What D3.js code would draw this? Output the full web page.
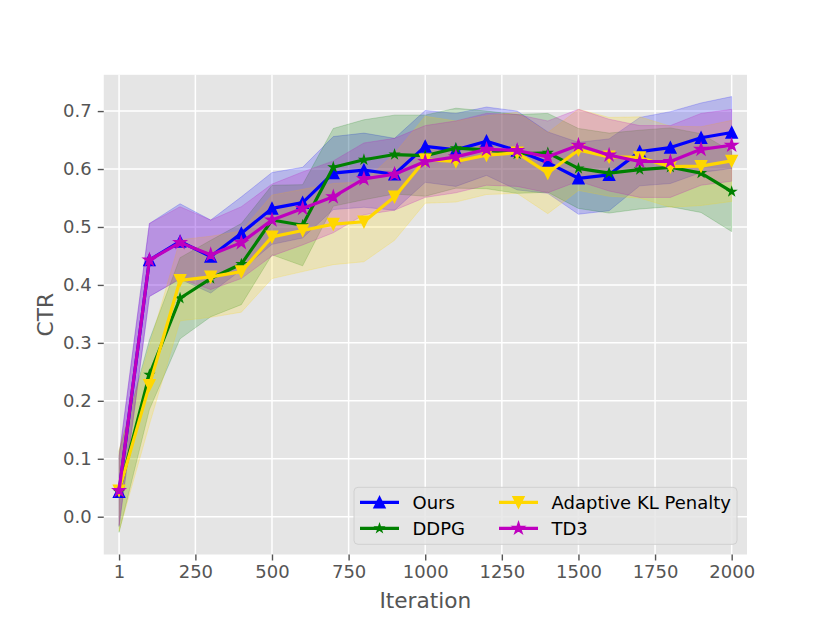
<!DOCTYPE html>
<html>
<head>
<meta charset="utf-8">
<script src="https://cdn.jsdelivr.net/npm/d3@7"></script>
<style>
  body { margin: 0; background: #fff; }
  svg { font-family: "DejaVu Sans", sans-serif; }
</style>
</head>
<body>
<div id="chart"></div>
<script>
// iterations on the x axis
const iterations = [1,100,200,300,400,500,600,700,800,900,1000,1100,1200,1300,1400,1500,1600,1700,1800,1900,2000];
const xTicks = [1,250,500,750,1000,1250,1500,1750,2000];
const yTicks = [0.0,0.1,0.2,0.3,0.4,0.5,0.6,0.7];

// mean CTR per method
const oursMean = [0.043,0.443,0.475,0.449,0.489,0.532,0.542,0.593,0.598,0.591,0.639,0.633,0.648,0.632,0.611,0.584,0.590,0.630,0.637,0.654,0.663];
const ddpgMean = [0.043,0.245,0.377,0.411,0.436,0.512,0.503,0.603,0.616,0.625,0.623,0.636,0.633,0.626,0.628,0.601,0.593,0.599,0.603,0.593,0.561];
const klMean   = [0.045,0.227,0.408,0.414,0.423,0.483,0.494,0.505,0.509,0.552,0.616,0.613,0.624,0.628,0.593,0.633,0.621,0.620,0.604,0.605,0.614];
const td3Mean  = [0.045,0.443,0.473,0.452,0.473,0.512,0.532,0.552,0.583,0.591,0.613,0.621,0.634,0.632,0.621,0.641,0.624,0.613,0.613,0.634,0.641];

// spread (half width of the shaded band)
const oursSd = [0.060,0.063,0.065,0.063,0.063,0.062,0.061,0.063,0.064,0.062,0.062,0.063,0.059,0.068,0.053,0.062,0.062,0.059,0.062,0.060,0.062];
const ddpgSd = [0.070,0.060,0.070,0.066,0.070,0.060,0.070,0.067,0.069,0.068,0.070,0.069,0.067,0.068,0.068,0.069,0.069,0.068,0.068,0.068,0.069];
const klSd   = [0.070,0.068,0.070,0.070,0.070,0.072,0.071,0.070,0.069,0.075,0.075,0.070,0.068,0.070,0.070,0.070,0.068,0.070,0.070,0.068,0.070];
const td3Sd  = [0.060,0.063,0.062,0.060,0.062,0.062,0.063,0.062,0.062,0.062,0.062,0.062,0.062,0.062,0.062,0.062,0.062,0.062,0.062,0.062,0.062];

const series = [
  {name: "Ours", mean: oursMean, sd: oursSd, color: "#0000ff", marker: "up", size: 11},
  {name: "DDPG", mean: ddpgMean, sd: ddpgSd, color: "#008000", marker: "star", size: 8},
  {name: "Adaptive KL Penalty", mean: klMean, sd: klSd, color: "#ffd700", marker: "down", size: 11},
  {name: "TD3", mean: td3Mean, sd: td3Sd, color: "#bf00bf", marker: "star", size: 12}
];

const W = 830, H = 623;
const box = {left: 103.75, right: 747, top: 74.8, bottom: 554.5};

const svg = d3.select("#chart").append("svg")
  .attr("width", W).attr("height", H);

const x = d3.scaleLinear().domain([-49, 2050]).range([box.left, box.right]);
const y = d3.scaleLinear().domain([-0.0652, 0.7626]).range([box.bottom, box.top]);

// marker shapes like matplotlib ^ v *
const markerPath = (type, s) => {
  const r = s / 2;
  if (type === "up") return `M0,${-r}L${-r},${r}L${r},${r}Z`;
  if (type === "down") return `M0,${r}L${-r},${-r}L${r},${-r}Z`;
  let p = "";
  for (let i = 0; i < 10; i++) {
    const rr = i % 2 === 0 ? r : r * 0.381966;
    const a = -Math.PI / 2 + i * Math.PI / 5;
    p += (i === 0 ? "M" : "L") + (rr * Math.cos(a)).toFixed(2) + "," + (rr * Math.sin(a)).toFixed(2);
  }
  return p + "Z";
};

// background
svg.append("rect")
  .attr("x", box.left).attr("y", box.top)
  .attr("width", box.right - box.left).attr("height", box.bottom - box.top)
  .attr("fill", "#e5e5e5");

svg.append("clipPath").attr("id", "clip")
  .append("rect")
  .attr("x", box.left).attr("y", box.top)
  .attr("width", box.right - box.left).attr("height", box.bottom - box.top);

// grid
const grid = svg.append("g");
grid.selectAll(".gx").data(xTicks).join("line")
  .attr("x1", d => x(d)).attr("x2", d => x(d))
  .attr("y1", box.top).attr("y2", box.bottom)
  .attr("stroke", "#fff").attr("stroke-width", 1.5);
grid.selectAll(".gy").data(yTicks).join("line")
  .attr("x1", box.left).attr("x2", box.right)
  .attr("y1", d => y(d)).attr("y2", d => y(d))
  .attr("stroke", "#fff").attr("stroke-width", 1.5);

// axes
const xAxis = d3.axisBottom(x).tickValues(xTicks).tickSize(6).tickPadding(5).tickFormat(d3.format("d"));
const yAxis = d3.axisLeft(y).tickValues(yTicks).tickSize(6).tickPadding(6).tickFormat(d3.format(".1f"));

const gx = svg.append("g").attr("transform", `translate(0,${box.bottom})`).call(xAxis);
const gy = svg.append("g").attr("transform", `translate(${box.left},0)`).call(yAxis);
[gx, gy].forEach(g => {
  g.select(".domain").remove();
  g.selectAll(".tick line").attr("stroke", "#555").attr("stroke-width", 1.4);
  g.selectAll(".tick text").attr("fill", "#555").attr("font-size", 18)
    .attr("font-family", "DejaVu Sans");
});

svg.append("text")
  .attr("x", (box.left + box.right) / 2).attr("y", 608)
  .attr("text-anchor", "middle").attr("font-size", 21.7).attr("fill", "#555")
  .text("Iteration");
svg.append("text")
  .attr("transform", `translate(52.5,${(box.top + box.bottom) / 2}) rotate(-90)`)
  .attr("text-anchor", "middle").attr("font-size", 21.7).attr("fill", "#555")
  .text("CTR");

// bands first, then lines and markers on top
const plot = svg.append("g").attr("clip-path", "url(#clip)");
const bandLayer = plot.append("g");
const lineLayer = plot.append("g");

series.forEach(s => {
  const pts = iterations.map((it, i) => ({it, m: s.mean[i], sd: s.sd[i]}));

  const area = d3.area()
    .x(d => x(d.it))
    .y0(d => y(d.m - d.sd))
    .y1(d => y(d.m + d.sd));
  bandLayer.append("path").datum(pts)
    .attr("d", area)
    .attr("fill", s.color).attr("fill-opacity", 0.2)
    .attr("stroke", s.color).attr("stroke-opacity", 0.2).attr("stroke-width", 1);

  const line = d3.line().x(d => x(d.it)).y(d => y(d.m));
  lineLayer.append("path").datum(pts)
    .attr("d", line)
    .attr("fill", "none").attr("stroke", s.color)
    .attr("stroke-width", 3.2).attr("stroke-linejoin", "round");

  lineLayer.append("g").selectAll("path").data(pts).join("path")
    .attr("transform", d => `translate(${x(d.it)},${y(d.m)})`)
    .attr("d", markerPath(s.marker, s.size))
    .attr("fill", s.color).attr("stroke", s.color).attr("stroke-width", 1.5)
    .attr("stroke-linejoin", "miter");
});

// legend
const leg = svg.append("g");
leg.append("rect")
  .attr("x", 354).attr("y", 487.3).attr("width", 383).attr("height", 57)
  .attr("rx", 4)
  .attr("fill", "#e5e5e5").attr("fill-opacity", 0.85)
  .attr("stroke", "#d0d0d0").attr("stroke-width", 1);

const legPos = [
  {hx: 360, ty: 502.3}, {hx: 360, ty: 528.3},
  {hx: 499, ty: 502.3}, {hx: 499, ty: 528.3}
];
series.forEach((s, i) => {
  const p = legPos[i];
  leg.append("line")
    .attr("x1", p.hx).attr("x2", p.hx + 39)
    .attr("y1", p.ty).attr("y2", p.ty)
    .attr("stroke", s.color).attr("stroke-width", 3.2);
  leg.append("path")
    .attr("transform", `translate(${p.hx + 19.5},${p.ty})`)
    .attr("d", markerPath(s.marker, s.size))
    .attr("fill", s.color).attr("stroke", s.color).attr("stroke-width", 1.5);
  leg.append("text")
    .attr("x", p.hx + 52.5).attr("y", p.ty)
    .attr("dy", "0.36em")
    .attr("font-size", 18).attr("fill", "#000")
    .text(s.name);
});
</script>
</body>
</html>
